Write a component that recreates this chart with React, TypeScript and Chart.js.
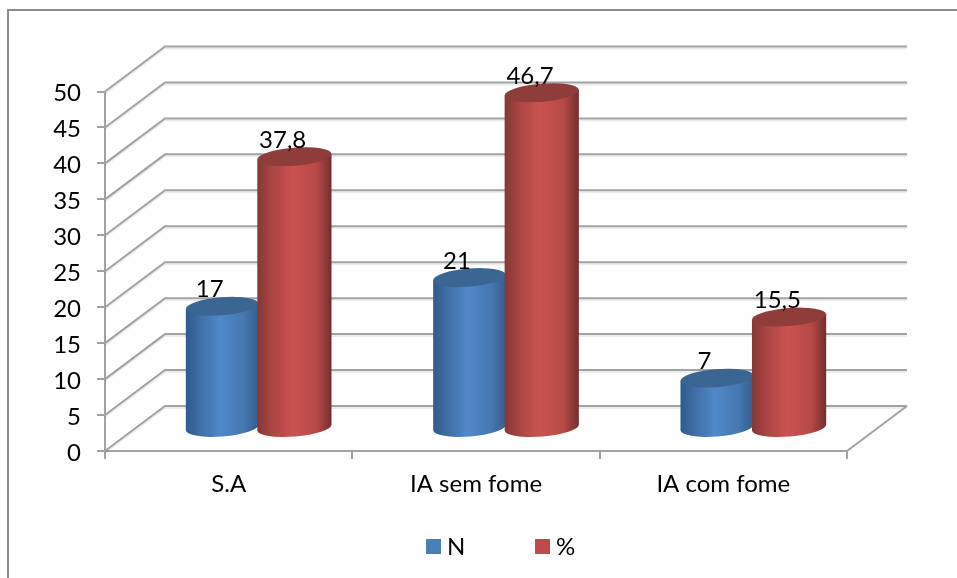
import React, { useEffect, useRef } from "react";
import { Chart, registerables } from "chart.js";

Chart.register(...registerables);

const categories = ["S.A", "IA sem fome", "IA com fome"];
const seriesN = [17, 21, 7];
const seriesPct = [37.8, 46.7, 15.5];
const labelsN = ["17", "21", "7"];
const labelsPct = ["37,8", "46,7", "15,5"];

const FONT = "Lato, 'Open Sans', sans-serif";
const FONT_SIZE = 24;
const INK = "#000000";
const GRID = "#a2a2a2";
const DEPTH_X = 60;
const DEPTH_Y = -45;
const ROT = (-4.5 * Math.PI) / 180;
const RY = 9;

const palettes = [
  { stops: ["#2f5b8e", "#3f6fa6", "#5088c9", "#4677b0", "#345f90"], cap: "#3b6593", swatch: "#4a7ebb" },
  { stops: ["#843836", "#ab4543", "#cb5351", "#b64a47", "#742e2c"], cap: "#8f3d3b", swatch: "#be4b48" },
];

// Draws one upright cylinder standing halfway back on the floor.
function cylinder(ctx: CanvasRenderingContext2D, bar: any, pal: typeof palettes[0], grow: number) {
  const cx = bar.x + DEPTH_X / 2 - grow / 2;
  const top = bar.y + DEPTH_Y / 2;
  const bottom = bar.base + DEPTH_Y / 2;
  const rx = bar.width / 2 + grow / 2;
  const dx = rx * Math.cos(ROT);
  const dy = rx * Math.sin(ROT);

  const grad = ctx.createLinearGradient(cx - dx, 0, cx + dx, 0);
  [0, 0.2, 0.47, 0.8, 1].forEach((p, i) => grad.addColorStop(p, pal.stops[i]));

  ctx.save();
  ctx.fillStyle = grad;
  ctx.beginPath();
  ctx.moveTo(cx - dx, top - dy);
  ctx.lineTo(cx - dx, bottom - dy);
  ctx.ellipse(cx, bottom, rx, RY, ROT, Math.PI, 0, true);
  ctx.lineTo(cx + dx, top + dy);
  ctx.closePath();
  ctx.fill();

  ctx.fillStyle = pal.cap;
  ctx.beginPath();
  ctx.ellipse(cx, top, rx, RY, ROT, 0, Math.PI * 2);
  ctx.fill();
  ctx.restore();
}

const chart3d = {
  id: "chart3d",
  beforeDraw(chart: any) {
    const { ctx } = chart;
    ctx.save();
    ctx.fillStyle = "#ffffff";
    ctx.fillRect(0, 0, chart.width, chart.height);
    ctx.strokeStyle = "#8c8c8c";
    ctx.lineWidth = 2;
    ctx.beginPath();
    ctx.moveTo(8, 578);
    ctx.lineTo(8, 10);
    ctx.lineTo(957, 10);
    ctx.stroke();
    ctx.restore();
  },
  // Back wall and side wall rules, one per y tick, then the floor edge.
  beforeDatasetsDraw(chart: any) {
    const { ctx, scales, chartArea } = chart;
    const y = scales.y;
    ctx.save();
    ctx.lineWidth = 2;
    y.ticks.forEach((t: any) => {
      const py = y.getPixelForValue(t.value);
      const path = () => {
        ctx.beginPath();
        ctx.moveTo(chartArea.left, py);
        ctx.lineTo(chartArea.left + DEPTH_X, py + DEPTH_Y);
        ctx.lineTo(chartArea.right + DEPTH_X, py + DEPTH_Y);
      };
      ctx.strokeStyle = "rgba(0,0,0,0.07)";
      ctx.translate(0, 2);
      path();
      ctx.stroke();
      ctx.translate(0, -2);
      ctx.strokeStyle = GRID;
      path();
      ctx.stroke();
    });
    ctx.strokeStyle = GRID;
    ctx.beginPath();
    ctx.moveTo(chartArea.right, chartArea.bottom);
    ctx.lineTo(chartArea.right + DEPTH_X, chartArea.bottom + DEPTH_Y);
    ctx.stroke();
    ctx.restore();
  },
  // The flat bars are replaced by the cylinders drawn after this pass.
  beforeDatasetDraw() {
    return false;
  },
  afterDatasetsDraw(chart: any) {
    const { ctx } = chart;
    const metas = [chart.getDatasetMeta(0), chart.getDatasetMeta(1)];
    categories.forEach((_, i) => {
      metas.forEach((m, d) => cylinder(ctx, m.data[i], palettes[d], d === 1 ? 1.5 : 0));
    });
    ctx.save();
    ctx.fillStyle = INK;
    ctx.font = `${FONT_SIZE}px ${FONT}`;
    ctx.textAlign = "center";
    ctx.textBaseline = "alphabetic";
    [labelsN, labelsPct].forEach((labels, d) => {
      labels.forEach((txt, i) => {
        const bar = metas[d].data[i];
        ctx.fillText(txt, bar.x + DEPTH_X / 2 - 12.5, bar.y + DEPTH_Y / 2 - 9);
      });
    });
    // Legend row under the axis
    const xs = [426, 535];
    ctx.textAlign = "left";
    chart.data.datasets.forEach((ds: any, d: number) => {
      ctx.fillStyle = palettes[d].swatch;
      ctx.fillRect(xs[d], 539, 15, 15);
      ctx.fillStyle = INK;
      ctx.fillText(ds.label, xs[d] + 21, 555);
    });
    ctx.restore();
  },
};

export default function App() {
  const ref = useRef<HTMLCanvasElement>(null);
  useEffect(() => {
    const chart = new Chart(ref.current!, {
      type: "bar",
      data: {
        labels: categories,
        datasets: [
          { label: "N", data: seriesN, backgroundColor: palettes[0].swatch },
          { label: "%", data: seriesPct, backgroundColor: palettes[1].swatch },
        ],
      },
      plugins: [chart3d],
      options: {
        responsive: false,
        animation: false,
        layout: { padding: { left: 0, top: 91.5, right: 110, bottom: 0 } },
        plugins: { legend: { display: false }, tooltip: { enabled: false } },
        datasets: { bar: { categoryPercentage: 0.59, barPercentage: 1 } },
        scales: {
          x: {
            afterFit: (s: any) => { s.height = 127; },
            grid: { drawOnChartArea: false, color: GRID, lineWidth: 2, tickLength: 8, offset: true },
            border: { color: GRID, width: 2 },
            ticks: { color: INK, font: { family: FONT, size: FONT_SIZE }, padding: 11, maxRotation: 0 },
          },
          y: {
            min: 0,
            max: 50,
            afterFit: (s: any) => { s.width = 105; },
            grid: { drawOnChartArea: false, color: GRID, lineWidth: 2, tickLength: 8 },
            border: { color: GRID, width: 2 },
            ticks: { stepSize: 5, color: INK, font: { family: FONT, size: FONT_SIZE }, padding: 16, labelOffset: 2 },
          },
        },
      },
    } as any);
    return () => chart.destroy();
  }, []);
  return (
    <canvas
      ref={ref}
      width={957}
      height={578}
      style={{ position: "fixed", left: 0, top: 0, display: "block" }}
    />
  );
}
